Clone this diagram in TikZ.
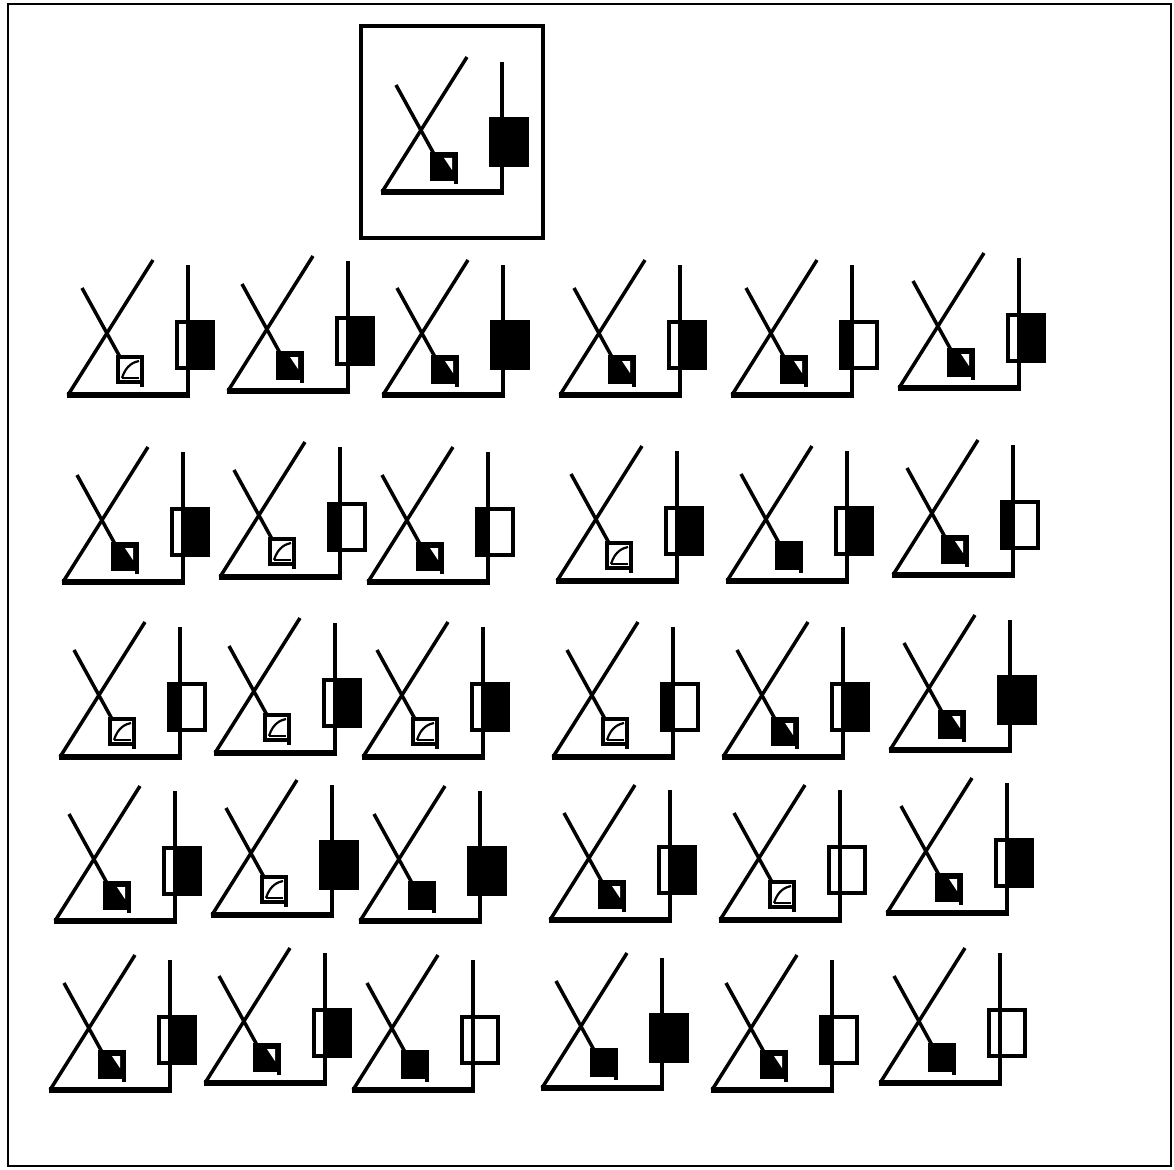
\documentclass[tikz,border=0pt]{standalone}
\tikzset{
  rvline/.style={line width=3.5pt},
  rvbase/.style={line width=5.5pt},
  rvinner/.style={line width=2.2pt},
}
\newcommand\rvsqF{%
  \filldraw[rvline] (50,-38) rectangle (74,-13);
  \draw[rvline] (74,-13) -- (74,-8);}
\newcommand\rvsqB{%
  \filldraw[rvline] (50,-38) rectangle (74,-13);
  \fill[white] (62,-34) -- (70,-34) -- (70,-22) -- cycle;
  \draw[rvline] (74,-13) -- (74,-8);}
\newcommand\rvsqW{%
  \draw[rvline,fill=white] (50,-38) rectangle (74,-13);
  \draw[rvinner] (54,-17) .. controls (58,-30) and (66,-33) .. (71,-34);
  \draw[rvinner] (54,-17) -- (71,-17);
  \draw[rvline] (74,-13) -- (74,-8);}
\newcommand\rv[5]{%
  \begin{scope}[shift={(#1,#2)}]
    \fill[#3] (109,-73) rectangle (120,-27);
    \fill[#4] (120,-73) rectangle (145,-27);
    \draw[rvline] (109,-73) rectangle (145,-27);
    \draw[rvline] (120,1) -- (120,-130);
    \draw[rvbase] (-1,0) -- (121.7,0);
    \draw[rvline] (0,0) -- (85,-135);
    \draw[rvline] (14,-107) -- (52,-38);
    \csname rvsq#5\endcsname
  \end{scope}}
\begin{document}
\begin{tikzpicture}[x=1pt,y=-1pt]
  \fill[white] (0,0) rectangle (1174,1169);
  \useasboundingbox (0,0) rectangle (1174,1169);
  \draw[line width=2pt] (8,4) rectangle (1171,1166);
  % reference box
  \draw[line width=4.5pt] (361,26) rectangle (543,238);
  \rv{382}{192}{black}{black}{B}
  % row 1
  \rv{68}{395}{white}{black}{W}
  \rv{228}{391}{white}{black}{B}
  \rv{383}{395}{black}{black}{B}
  \rv{560}{395}{white}{black}{B}
  \rv{732}{395}{black}{white}{B}
  \rv{899}{388}{white}{black}{B}
  % row 2
  \rv{63}{582}{white}{black}{B}
  \rv{220}{577}{black}{white}{W}
  \rv{368}{582}{black}{white}{B}
  \rv{557}{581}{white}{black}{W}
  \rv{727}{581}{white}{black}{F}
  \rv{893}{575}{black}{white}{B}
  % row 3
  \rv{60}{757}{black}{white}{W}
  \rv{215}{753}{white}{black}{W}
  \rv{363}{757}{white}{black}{W}
  \rv{553}{757}{black}{white}{W}
  \rv{723}{757}{white}{black}{B}
  \rv{890}{750}{black}{black}{B}
  % row 4
  \rv{55}{921}{white}{black}{B}
  \rv{212}{915}{black}{black}{W}
  \rv{360}{921}{black}{black}{F}
  \rv{550}{920}{white}{black}{B}
  \rv{720}{920}{white}{white}{W}
  \rv{887}{913}{white}{black}{B}
  % row 5
  \rv{50}{1090}{white}{black}{B}
  \rv{205}{1083}{white}{black}{B}
  \rv{353}{1090}{white}{white}{F}
  \rv{542}{1088}{black}{black}{F}
  \rv{712}{1090}{black}{white}{B}
  \rv{880}{1083}{white}{white}{F}
\end{tikzpicture}
\end{document}
